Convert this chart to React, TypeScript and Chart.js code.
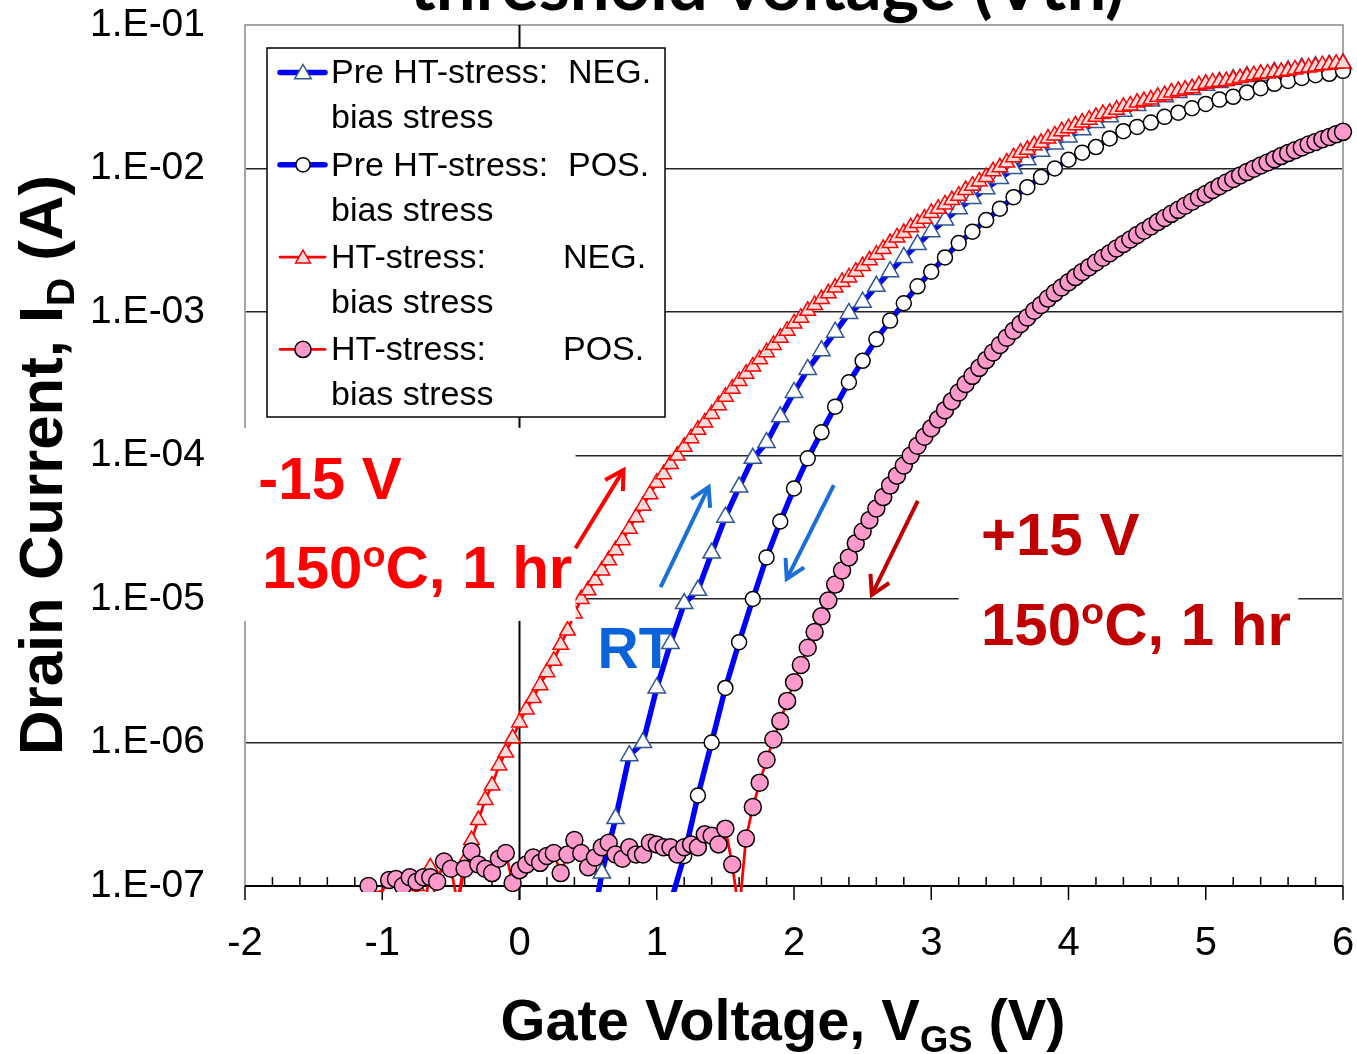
import React, { useEffect, useRef } from "react";
import { Chart, registerables } from "chart.js";

Chart.register(...registerables);

const SANS = '"Liberation Sans", Arial, Helvetica, sans-serif';
const TITLE_FONT = 'Lato, "Open Sans", sans-serif';

// ---------------- data ----------------
const preVoltage = [
  0.4, 0.5, 0.6, 0.7, 0.8, 0.9, 1.0, 1.1, 1.2, 1.3, 1.4, 1.5, 1.6, 1.7, 1.8, 1.9, 2.0, 2.1, 2.2, 2.3,
  2.4, 2.5, 2.6, 2.7, 2.8, 2.9, 3.0, 3.1, 3.2, 3.3, 3.4, 3.5, 3.6, 3.7, 3.8, 3.9, 4.0, 4.1, 4.2, 4.3,
  4.4, 4.5, 4.6, 4.7, 4.8, 4.9, 5.0, 5.1, 5.2, 5.3, 5.4, 5.5, 5.6, 5.7, 5.8, 5.9, 6.0,
];

const preNegCurrent = [
  1.0e-9, 3.5e-8, 1.23e-7, 2.95e-7, 8.1e-7, 1.0e-6, 2.4e-6, 4.9e-6, 9.3e-6, 1.15e-5, 2.09e-5, 3.72e-5, 6.03e-5, 9.55e-5, 1.23e-4, 1.86e-4, 2.75e-4, 3.98e-4, 5.37e-4, 7.24e-4,
  9.77e-4, 1.17e-3, 1.51e-3, 1.91e-3, 2.4e-3, 2.95e-3, 3.63e-3, 4.37e-3, 5.25e-3, 6.17e-3, 7.24e-3, 8.51e-3, 1.0e-2, 1.15e-2, 1.32e-2, 1.48e-2, 1.66e-2, 1.86e-2, 2.09e-2, 2.29e-2,
  2.51e-2, 2.75e-2, 2.95e-2, 3.16e-2, 3.39e-2, 3.55e-2, 3.8e-2, 3.98e-2, 4.17e-2, 4.37e-2, 4.47e-2, 4.68e-2, 4.79e-2, 5.01e-2, 5.13e-2, 5.25e-2, 5.37e-2,
];

const prePosCurrent = [
  null, null, null, null, null, null, 1.0e-8, 7.6e-8, 1.62e-7, 4.27e-7, 1.0e-6, 2.4e-6, 5.0e-6, 1.0e-5, 1.95e-5, 3.47e-5, 5.89e-5, 9.55e-5, 1.45e-4, 2.19e-4,
  3.24e-4, 4.57e-4, 6.46e-4, 8.71e-4, 1.15e-3, 1.51e-3, 1.91e-3, 2.4e-3, 3.02e-3, 3.63e-3, 4.37e-3, 5.25e-3, 6.31e-3, 7.41e-3, 8.71e-3, 1.0e-2, 1.15e-2, 1.29e-2, 1.41e-2, 1.62e-2,
  1.82e-2, 1.95e-2, 2.09e-2, 2.29e-2, 2.45e-2, 2.63e-2, 2.82e-2, 3.02e-2, 3.16e-2, 3.39e-2, 3.63e-2, 3.89e-2, 4.07e-2, 4.27e-2, 4.47e-2, 4.57e-2, 4.79e-2,
];

const htVoltage = [
  -1.1, -1.05, -1, -0.95, -0.9, -0.85, -0.8, -0.75, -0.7, -0.65, -0.6, -0.55, -0.5, -0.45, -0.4, -0.35, -0.3, -0.25, -0.2, -0.15,
  -0.1, -0.05, 0, 0.05, 0.1, 0.15, 0.2, 0.25, 0.3, 0.35, 0.4, 0.45, 0.5, 0.55, 0.6, 0.65, 0.7, 0.75, 0.8, 0.85,
  0.9, 0.95, 1, 1.05, 1.1, 1.15, 1.2, 1.25, 1.3, 1.35, 1.4, 1.45, 1.5, 1.55, 1.6, 1.65, 1.7, 1.75, 1.8, 1.85,
  1.9, 1.95, 2, 2.05, 2.1, 2.15, 2.2, 2.25, 2.3, 2.35, 2.4, 2.45, 2.5, 2.55, 2.6, 2.65, 2.7, 2.75, 2.8, 2.85,
  2.9, 2.95, 3, 3.05, 3.1, 3.15, 3.2, 3.25, 3.3, 3.35, 3.4, 3.45, 3.5, 3.55, 3.6, 3.65, 3.7, 3.75, 3.8, 3.85,
  3.9, 3.95, 4, 4.05, 4.1, 4.15, 4.2, 4.25, 4.3, 4.35, 4.4, 4.45, 4.5, 4.55, 4.6, 4.65, 4.7, 4.75, 4.8, 4.85,
  4.9, 4.95, 5, 5.05, 5.1, 5.15, 5.2, 5.25, 5.3, 5.35, 5.4, 5.45, 5.5, 5.55, 5.6, 5.65, 5.7, 5.75, 5.8, 5.85,
  5.9, 5.95, 6,
];

const htNegCurrent = [
  null, null, null, null, 2.0e-8, 3.0e-8, 6.0e-8, 1.0e-7, 6.0e-8, 1.35e-7, 7.0e-8, 4.0e-8, 5.0e-8, 8.0e-8, 1.48e-7, 2.09e-7, 2.88e-7, 3.98e-7, 5.01e-7, 6.92e-7,
  8.51e-7, 1.07e-6, 1.38e-6, 1.7e-6, 2.04e-6, 2.51e-6, 3.09e-6, 3.72e-6, 4.79e-6, 6.03e-6, 7.94e-6, 1.0e-5, 1.15e-5, 1.35e-5, 1.58e-5, 1.86e-5, 2.19e-5, 2.57e-5, 3.09e-5, 3.72e-5,
  4.47e-5, 5.37e-5, 6.46e-5, 7.41e-5, 8.71e-5, 1.0e-4, 1.15e-4, 1.32e-4, 1.51e-4, 1.7e-4, 1.95e-4, 2.24e-4, 2.57e-4, 2.92e-4, 3.31e-4, 3.72e-4, 4.17e-4, 4.68e-4, 5.25e-4, 5.89e-4,
  6.61e-4, 7.41e-4, 8.32e-4, 9.12e-4, 1.02e-3, 1.12e-3, 1.23e-3, 1.35e-3, 1.48e-3, 1.62e-3, 1.74e-3, 1.91e-3, 2.09e-3, 2.29e-3, 2.51e-3, 2.75e-3, 3.02e-3, 3.31e-3, 3.55e-3, 3.89e-3,
  4.17e-3, 4.47e-3, 4.9e-3, 5.25e-3, 5.62e-3, 6.03e-3, 6.46e-3, 7.08e-3, 7.59e-3, 8.13e-3, 8.71e-3, 9.55e-3, 1.02e-2, 1.1e-2, 1.2e-2, 1.29e-2, 1.35e-2, 1.45e-2, 1.51e-2, 1.62e-2,
  1.7e-2, 1.82e-2, 1.91e-2, 2.0e-2, 2.09e-2, 2.19e-2, 2.29e-2, 2.4e-2, 2.45e-2, 2.57e-2, 2.69e-2, 2.75e-2, 2.88e-2, 2.95e-2, 3.02e-2, 3.16e-2, 3.24e-2, 3.39e-2, 3.47e-2, 3.55e-2,
  3.63e-2, 3.8e-2, 3.89e-2, 3.98e-2, 4.02e-2, 4.07e-2, 4.17e-2, 4.27e-2, 4.37e-2, 4.47e-2, 4.57e-2, 4.6e-2, 4.68e-2, 4.72e-2, 4.79e-2, 4.9e-2, 5.01e-2, 5.05e-2, 5.13e-2, 5.25e-2,
  5.28e-2, 5.37e-2, 5.4e-2,
];

const htPosCurrent = [
  1.0e-7, 9.0e-8, 9.2e-8, 1.1e-7, 1.12e-7, 1.0e-7, 1.15e-7, 1.07e-7, 1.15e-7, 1.15e-7, 1.07e-7, 1.48e-7, 1.32e-7, 7.5e-8, 1.32e-7, 1.74e-7, 1.41e-7, 1.32e-7, 1.23e-7, 1.55e-7,
  1.7e-7, 1.05e-7, 1.29e-7, 1.41e-7, 1.58e-7, 1.45e-7, 1.62e-7, 1.7e-7, 1.23e-7, 1.66e-7, 2.09e-7, 1.7e-7, 1.35e-7, 1.58e-7, 1.86e-7, 2.0e-7, 1.66e-7, 1.55e-7, 1.86e-7, 1.66e-7,
  1.66e-7, 2.0e-7, 1.95e-7, 1.86e-7, 1.86e-7, 1.66e-7, 1.86e-7, 1.95e-7, 1.86e-7, 2.29e-7, 2.24e-7, 1.95e-7, 2.51e-7, 1.41e-7, 6.5e-8, 2.14e-7, 3.55e-7, 5.25e-7, 7.59e-7, 1.05e-6,
  1.41e-6, 1.95e-6, 2.63e-6, 3.47e-6, 4.57e-6, 5.89e-6, 7.59e-6, 9.77e-6, 1.26e-5, 1.58e-5, 1.95e-5, 2.45e-5, 2.95e-5, 3.55e-5, 4.27e-5, 5.13e-5, 6.17e-5, 7.24e-5, 8.51e-5, 1.0e-4,
  1.17e-4, 1.35e-4, 1.55e-4, 1.79e-4, 2.07e-4, 2.39e-4, 2.75e-4, 3.15e-4, 3.59e-4, 4.08e-4, 4.62e-4, 5.22e-4, 5.89e-4, 6.61e-4, 7.4e-4, 8.24e-4, 9.16e-4, 1.02e-3, 1.12e-3, 1.24e-3,
  1.36e-3, 1.48e-3, 1.61e-3, 1.75e-3, 1.9e-3, 2.05e-3, 2.21e-3, 2.39e-3, 2.57e-3, 2.77e-3, 2.98e-3, 3.2e-3, 3.44e-3, 3.68e-3, 3.94e-3, 4.23e-3, 4.52e-3, 4.83e-3, 5.15e-3, 5.5e-3,
  5.86e-3, 6.25e-3, 6.65e-3, 7.08e-3, 7.53e-3, 7.98e-3, 8.45e-3, 8.93e-3, 9.44e-3, 9.95e-3, 1.05e-2, 1.1e-2, 1.16e-2, 1.22e-2, 1.28e-2, 1.34e-2, 1.4e-2, 1.47e-2, 1.53e-2, 1.6e-2,
  1.66e-2, 1.73e-2, 1.8e-2,
];

const seriesNames = [
  "Pre HT-stress: NEG. bias stress",
  "Pre HT-stress: POS. bias stress",
  "HT-stress: NEG. bias stress",
  "HT-stress: POS. bias stress",
];
const legendLines = [
  ["Pre HT-stress:", "NEG.", "bias stress"],
  ["Pre HT-stress:", "POS.", "bias stress"],
  ["HT-stress:", "NEG.", "bias stress"],
  ["HT-stress:", "POS.", "bias stress"],
];

const xMin = -2;
const xMax = 6;
const yTickValues = [1e-7, 1e-6, 1e-5, 1e-4, 1e-3, 1e-2, 1e-1];
const yTickLabels = ["1.E-07", "1.E-06", "1.E-05", "1.E-04", "1.E-03", "1.E-02", "1.E-01"];

const chartTitle = "threshold voltage (Vth)";
const xTitleParts = [{ t: "Gate Voltage, V" }, { t: "GS", sub: true }, { t: " (V)" }];
const yTitleParts = [{ t: "Drain Current, I" }, { t: "D", sub: true }, { t: " (A)" }];

// annotations in data coordinates (V, A)
const tempParts = [{ t: "150" }, { t: "o", sup: true }, { t: "C, 1 hr" }];
const annotationTexts = [
  { parts: [{ t: "-15 V" }], x: -1.903, y: 4.98e-5, color: "#FF0000" },
  { parts: tempParts, x: -1.874, y: 1.19e-5, color: "#FF0000" },
  { parts: [{ t: "+15 V" }], x: 3.362, y: 2.03e-5, color: "#C00000" },
  { parts: tempParts, x: 3.362, y: 4.77e-6, color: "#C00000" },
];
const rtLabel = { text: "RT", x: 0.569, y: 3.3e-6, color: "#0A63D8" };
const maskBoxes = [
  { x1: -2.05, x2: 0.408, y1: 1.56e-4, y2: 7.03e-6 },
  { x1: 3.2, x2: 5.674, y1: 6.22e-5, y2: 4.07e-6 },
];
const arrows = [
  { from: [0.408, 2.26e-5], to: [0.758, 7.93e-5], color: "#FF0000" },
  { from: [1.028, 1.21e-5], to: [1.378, 6.03e-5], color: "#1A6FD8" },
  { from: [2.29, 6.22e-5], to: [1.947, 1.38e-5], color: "#1A6FD8" },
  { from: [2.902, 4.82e-5], to: [2.567, 1.07e-5], color: "#C00000" },
];

// ---------------- helpers ----------------
type Part = { t: string; sub?: boolean; sup?: boolean };

function partFont(p: Part, size: number, weight: string, family: string) {
  const s = p.sub || p.sup ? size * 0.63 : size;
  return `${weight} ${s}px ${family}`;
}
function richWidth(ctx: CanvasRenderingContext2D, parts: Part[], size: number, weight: string, family: string) {
  let w = 0;
  for (const p of parts) {
    ctx.font = partFont(p, size, weight, family);
    w += ctx.measureText(p.t).width;
  }
  return w;
}
function drawRich(ctx: CanvasRenderingContext2D, parts: Part[], x: number, y: number, size: number, weight: string, family: string) {
  let cx = x;
  ctx.textAlign = "left";
  ctx.textBaseline = "alphabetic";
  for (const p of parts) {
    ctx.font = partFont(p, size, weight, family);
    const dy = p.sub ? size * 0.2 : p.sup ? -size * 0.36 : 0;
    ctx.fillText(p.t, cx, y + dy);
    cx += ctx.measureText(p.t).width;
  }
}
function fitSize(ctx: CanvasRenderingContext2D, parts: Part[], target: number, weight: string, family: string) {
  const w = richWidth(ctx, parts, 60, weight, family);
  return (60 * target) / w;
}
function drawMarker(ctx: CanvasRenderingContext2D, style: string, x: number, y: number, r: number, fill: string, stroke: string, bw: number) {
  ctx.beginPath();
  if (style === "triangle") {
    ctx.moveTo(x, y - r);
    ctx.lineTo(x + 0.866 * r, y + 0.5 * r);
    ctx.lineTo(x - 0.866 * r, y + 0.5 * r);
    ctx.closePath();
  } else {
    ctx.arc(x, y, r, 0, Math.PI * 2);
  }
  ctx.fillStyle = fill;
  ctx.fill();
  ctx.lineWidth = bw;
  ctx.strokeStyle = stroke;
  ctx.stroke();
}
function line(ctx: CanvasRenderingContext2D, x1: number, y1: number, x2: number, y2: number) {
  ctx.beginPath();
  ctx.moveTo(x1, y1);
  ctx.lineTo(x2, y2);
  ctx.stroke();
}
function drawArrow(ctx: CanvasRenderingContext2D, x1: number, y1: number, x2: number, y2: number, color: string) {
  ctx.strokeStyle = color;
  ctx.lineWidth = 4;
  ctx.lineCap = "butt";
  ctx.lineJoin = "miter";
  const ang = Math.atan2(y2 - y1, x2 - x1);
  line(ctx, x1, y1, x2 - 2 * Math.cos(ang), y2 - 2 * Math.sin(ang));
  const L = 21;
  const a = 0.52;
  ctx.beginPath();
  ctx.moveTo(x2 - L * Math.cos(ang - a), y2 - L * Math.sin(ang - a));
  ctx.lineTo(x2, y2);
  ctx.lineTo(x2 - L * Math.cos(ang + a), y2 - L * Math.sin(ang + a));
  ctx.stroke();
}

const seriesStyles = [
  { line: "#0000FF", lw: 5.5, marker: "triangle", r: 10, fill: "#FFFFFF", stroke: "#2F5597", order: 4 },
  { line: "#0000FF", lw: 5.5, marker: "circle", r: 7.5, fill: "#FFFFFF", stroke: "#000000", order: 3 },
  { line: "#FF0000", lw: 2.75, marker: "triangle", r: 9, fill: "#F2DCDB", stroke: "#FF0000", order: 2 },
  { line: "#FF0000", lw: 2.75, marker: "circle", r: 8.5, fill: "#FF99CC", stroke: "#000000", order: 1 },
];

const decorPlugin = {
  id: "decor",
  beforeDatasetsDraw(chart: any) {
    const { ctx, chartArea: a, scales } = chart;
    const x = scales.x;
    const y = scales.y;
    ctx.save();
    // plot frame (grey)
    ctx.strokeStyle = "#A6A6A6";
    ctx.lineWidth = 2;
    ctx.beginPath();
    ctx.moveTo(a.left, a.bottom);
    ctx.lineTo(a.left, a.top);
    ctx.lineTo(a.right, a.top);
    ctx.lineTo(a.right, a.bottom);
    ctx.stroke();
    // vertical axis at V = 0
    ctx.strokeStyle = "#000";
    ctx.lineWidth = 2;
    const x0 = x.getPixelForValue(0);
    line(ctx, x0, a.top, x0, a.bottom + 14);
    // horizontal axis
    line(ctx, a.left, a.bottom, a.right, a.bottom);
    ctx.lineWidth = 1.5;
    for (let k = xMin * 5; k <= xMax * 5; k++) {
      const px = x.getPixelForValue(k / 5);
      if (k % 5 === 0) line(ctx, px, a.bottom, px, a.bottom + 14);
      else line(ctx, px, a.bottom - 9, px, a.bottom);
    }
    // RT label (under the data)
    ctx.fillStyle = rtLabel.color;
    ctx.font = `bold 57px ${SANS}`;
    ctx.textAlign = "left";
    ctx.textBaseline = "alphabetic";
    ctx.fillText(rtLabel.text, x.getPixelForValue(rtLabel.x), y.getPixelForValue(rtLabel.y));
    ctx.restore();
  },
  afterDatasetsDraw(chart: any) {
    const { ctx, scales } = chart;
    const x = scales.x;
    const y = scales.y;
    ctx.save();
    // white text boxes
    ctx.fillStyle = "#FFFFFF";
    for (const b of maskBoxes) {
      const l = x.getPixelForValue(b.x1);
      const r = x.getPixelForValue(b.x2);
      const t = y.getPixelForValue(b.y1);
      const bt = y.getPixelForValue(b.y2);
      ctx.fillRect(l, t, r - l, bt - t);
    }
    for (const an of annotationTexts) {
      ctx.fillStyle = an.color;
      drawRich(ctx, an.parts, x.getPixelForValue(an.x), y.getPixelForValue(an.y), 60, "bold", SANS);
    }
    for (const ar of arrows) {
      drawArrow(
        ctx,
        x.getPixelForValue(ar.from[0]),
        y.getPixelForValue(ar.from[1]),
        x.getPixelForValue(ar.to[0]),
        y.getPixelForValue(ar.to[1]),
        ar.color
      );
    }
    // legend
    const lx = 267, ly = 48, lw = 398, lh = 369;
    ctx.fillStyle = "#FFFFFF";
    ctx.fillRect(lx, ly, lw, lh);
    ctx.strokeStyle = "#000";
    ctx.lineWidth = 1.5;
    ctx.strokeRect(lx, ly, lw, lh);
    for (let i = 0; i < 4; i++) {
      const st = seriesStyles[i];
      const ty = 74 + i * 92.3;
      const my = ty - 1.5;
      ctx.strokeStyle = st.line;
      ctx.lineWidth = st.lw;
      ctx.lineCap = "round";
      line(ctx, 280, my, 325, my);
      ctx.lineCap = "butt";
      drawMarker(ctx, st.marker, 303, my + (st.marker === "triangle" ? 1.5 : 0), st.r * 0.95, st.fill, st.stroke, 1.5);
      ctx.fillStyle = "#000";
      ctx.font = `34px ${SANS}`;
      ctx.textAlign = "left";
      ctx.textBaseline = "middle";
      const parts = legendLines[i];
      ctx.fillText(parts[0], 331, ty);
      ctx.fillText(parts[1], i < 2 ? 568 : 563, ty);
      ctx.fillText(parts[2], 331, ty + 45);
    }
    ctx.restore();
  },
  afterDraw(chart: any) {
    const { ctx } = chart;
    ctx.save();
    ctx.fillStyle = "#000";
    // chart title (cut at the top)
    ctx.font = `bold 60px ${TITLE_FONT}`;
    const tw = ctx.measureText(chartTitle).width;
    const ts = (60 * 715) / tw;
    ctx.font = `bold ${ts}px ${TITLE_FONT}`;
    ctx.textAlign = "center";
    ctx.textBaseline = "alphabetic";
    ctx.fillText(chartTitle, 767, 10);
    // x axis title
    const xs = fitSize(ctx, xTitleParts, 565, "bold", SANS);
    const xw = richWidth(ctx, xTitleParts, xs, "bold", SANS);
    drawRich(ctx, xTitleParts, 783 - xw / 2, 1040, xs, "bold", SANS);
    // y axis title
    const ys = fitSize(ctx, yTitleParts, 580, "bold", SANS);
    const yw = richWidth(ctx, yTitleParts, ys, "bold", SANS);
    ctx.translate(62, 465);
    ctx.rotate(-Math.PI / 2);
    drawRich(ctx, yTitleParts, -yw / 2, 0, ys, "bold", SANS);
    ctx.restore();
  },
};

function buildDataset(idx: number, xs: number[], ys: (number | null)[]) {
  const st = seriesStyles[idx];
  const radius = (c: any) => {
    const v = c.raw && c.raw.y;
    return v != null && v >= 0.999e-7 ? st.r : 0;
  };
  return {
    label: seriesNames[idx],
    data: xs.map((v, i) => ({ x: v, y: ys[i] })),
    borderColor: st.line,
    borderWidth: st.lw,
    backgroundColor: st.fill,
    pointStyle: st.marker,
    pointRadius: radius,
    pointHoverRadius: radius,
    pointBackgroundColor: st.fill,
    pointBorderColor: st.stroke,
    pointBorderWidth: 1.5,
    tension: 0,
    spanGaps: false,
    fill: false,
    order: st.order,
    clip: { left: 14, top: 14, right: 14, bottom: 6 },
  };
}

function zeroPadding(s: any) {
  s.paddingTop = 0;
  s.paddingBottom = 0;
  s.paddingLeft = 0;
  s.paddingRight = 0;
}

export default function App() {
  const ref = useRef<HTMLCanvasElement | null>(null);
  useEffect(() => {
    if (!ref.current) return;
    const chart = new Chart(ref.current, {
      type: "line",
      data: {
        datasets: [
          buildDataset(0, preVoltage, preNegCurrent),
          buildDataset(1, preVoltage, prePosCurrent),
          buildDataset(2, htVoltage, htNegCurrent),
          buildDataset(3, htVoltage, htPosCurrent),
        ] as any,
      },
      options: {
        responsive: false,
        animation: false,
        devicePixelRatio: 1,
        events: [],
        layout: { padding: { left: 0, right: 14, top: 25, bottom: 0 } },
        plugins: {
          legend: { display: false },
          tooltip: { enabled: false },
          title: { display: false },
        },
        scales: {
          x: {
            type: "linear",
            min: xMin,
            max: xMax,
            afterFit: (s: any) => {
              s.height = 168;
              zeroPadding(s);
            },
            grid: { display: false, drawTicks: false },
            border: { display: false },
            ticks: {
              stepSize: 1,
              autoSkip: false,
              maxRotation: 0,
              color: "#000",
              font: { family: SANS, size: 40 },
              padding: 34,
            },
          },
          y: {
            type: "logarithmic",
            min: yTickValues[0],
            max: yTickValues[yTickValues.length - 1],
            afterFit: (s: any) => {
              s.width = 245;
              zeroPadding(s);
            },
            afterBuildTicks: (s: any) => {
              s.ticks = yTickValues.map((v) => ({ value: v }));
            },
            grid: {
              color: (c: any) => (c.tick && c.tick.value >= 0.09 ? "rgba(0,0,0,0)" : "#262626"),
              lineWidth: 1.5,
              drawTicks: false,
            },
            border: { display: false },
            ticks: {
              autoSkip: false,
              color: "#000",
              font: { family: SANS, size: 39 },
              padding: 40,
              callback: (_v: any, i: number) => yTickLabels[i],
            },
          },
        },
      } as any,
      plugins: [decorPlugin],
    });
    return () => chart.destroy();
  }, []);
  return (
    <div style={{ position: "absolute", left: 0, top: 0, width: 1357, height: 1054, background: "#fff" }}>
      <canvas ref={ref} width={1357} height={1054} style={{ display: "block" }} />
    </div>
  );
}
